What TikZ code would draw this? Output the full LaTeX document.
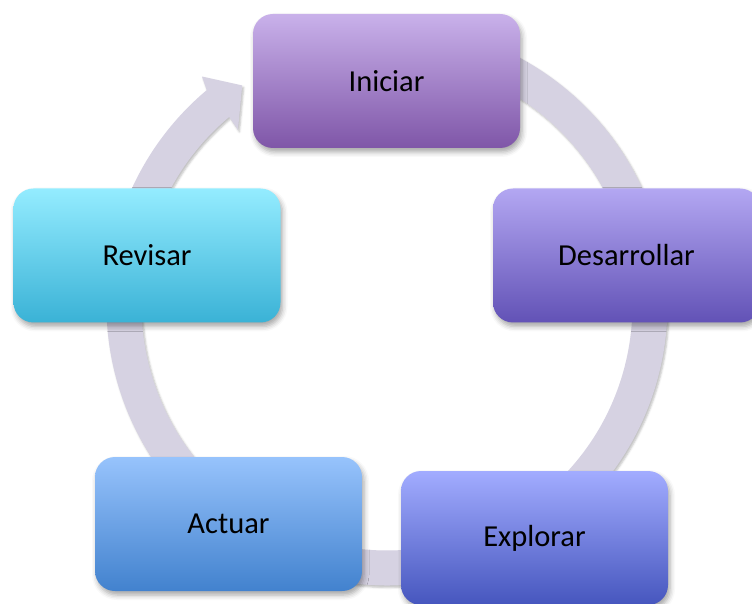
\documentclass[tikz,border=0pt]{standalone}
\usepackage{fontspec}
\setmainfont{Carlito}
\usetikzlibrary{calc,shadows.blur}

\definecolor{ringfill}{RGB}{214,210,226}
\definecolor{iniT}{RGB}{201,177,234}\definecolor{iniM}{RGB}{178,150,218}\definecolor{iniB}{RGB}{127,86,168}
\definecolor{desT}{RGB}{179,167,242}\definecolor{desM}{RGB}{150,136,226}\definecolor{desB}{RGB}{98,82,182}
\definecolor{expT}{RGB}{162,172,255}\definecolor{expM}{RGB}{132,144,236}\definecolor{expB}{RGB}{70,86,190}
\definecolor{actT}{RGB}{151,195,252}\definecolor{actM}{RGB}{120,170,236}\definecolor{actB}{RGB}{66,130,206}
\definecolor{revT}{RGB}{148,236,255}\definecolor{revM}{RGB}{112,214,240}\definecolor{revB}{RGB}{58,178,214}

\tikzset{
  stagebox/.style n args={3}{
    rounded corners=20pt, minimum width=267pt, minimum height=134pt, inner sep=0pt,
    top color=#1, middle color=#2, bottom color=#3,
    blur shadow={shadow xshift=2pt, shadow yshift=-4pt, shadow blur radius=5pt, shadow opacity=35},
    font=\fontsize{30.5}{36}\selectfont, text=black},
  cyclering/.style={fill=ringfill,
    blur shadow={shadow xshift=1.5pt, shadow yshift=-2pt, shadow blur radius=2pt, shadow opacity=25}}
}

\begin{document}
\begin{tikzpicture}[x=1pt,y=1pt]
  \useasboundingbox (0,0) rectangle (752,603);
  \clip (0,0) rectangle (752,603);

  % centre of the cycle
  \coordinate (C) at (387,298);

  % the circular block arrow running clockwise back into the first stage
  \fill[cyclering]
    ($(C)+(85:280.5)$) arc[start angle=85, end angle=-230, radius=280.5]
    -- ($(C)+(-231:294)$)
    -- ($(C)+(-236.6:263)$)
    -- ($(C)+(-229.6:230)$)
    -- ($(C)+(-230:245.5)$) arc[start angle=-230, end angle=85, radius=245.5]
    -- cycle;

  % stages
  \node[stagebox={iniT}{iniM}{iniB}] (ini) at (386.5,522) {Iniciar};
  \node[stagebox={desT}{desM}{desB}] (des) at (626.5,347.5) {Desarrollar};
  \node[stagebox={expT}{expM}{expB}] (exp) at (534.5,65) {Explorar};
  \node[stagebox={actT}{actM}{actB}] (act) at (228.5,79) {Actuar};
  \node[stagebox={revT}{revM}{revB}] (rev) at (147,347.5) {Revisar};
\end{tikzpicture}
\end{document}
